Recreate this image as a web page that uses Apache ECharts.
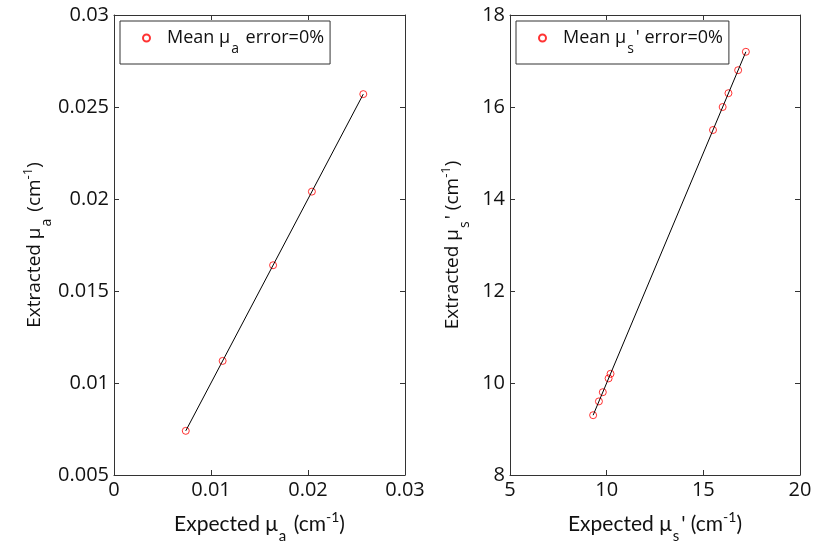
<!DOCTYPE html>
<html>
<head>
<meta charset="utf-8">
<script src="https://cdn.jsdelivr.net/npm/echarts@6/dist/echarts.min.js"></script>
<style>
  html, body { margin: 0; padding: 0; background: #fff; }
  #chart { width: 816px; height: 543px; }
</style>
</head>
<body>
<div id="chart"></div>
<script>
// Absorption coefficient μa (cm^-1): expected vs extracted
const muaExpected  = [0.0074, 0.0112, 0.0164, 0.0204, 0.0257];
const muaExtracted = [0.0074, 0.0112, 0.0164, 0.0204, 0.0257];
const muaFitX = [0.0074, 0.0257];
const muaFitY = [0.0074, 0.0257];

// Reduced scattering coefficient μs' (cm^-1): expected vs extracted
const muspExpected  = [9.3, 9.6, 9.8, 10.1, 10.2, 15.5, 16.0, 16.3, 16.8, 17.2];
const muspExtracted = [9.3, 9.6, 9.8, 10.1, 10.2, 15.5, 16.0, 16.3, 16.8, 17.2];
const muspFitX = [9.3, 17.2];
const muspFitY = [9.3, 17.2];

const legendLabels = {
  mua:  '{first|Mean μ}{sub|a}{t| error=0%}',
  musp: "{first|Mean μ}{sub|s}{t|' error=0%}"
};
const xNames = {
  mua:  '{t|Expected μ}{sub|a}{t| (cm}{sup|-1}{t|)}',
  musp: "{t|Expected μ}{sub|s}{t|' (cm}{sup|-1}{t|)}"
};
const yNames = {
  mua:  '{t|Extracted μ}{sub|a}{t| (cm}{sup|-1}{t|)}',
  musp: "{t|Extracted μ}{sub|s}{t|' (cm}{sup|-1}{t|)}"
};

const pairs = (xs, ys) => xs.map((x, i) => [x, ys[i]]);

const AXIS_COLOR = '#333';
const TEXT_COLOR = '#111';
const tickFont = { fontFamily: 'Open Sans', fontSize: 20, color: TEXT_COLOR };

function richSet(family, size, subSize, subDrop, supRise) {
  return {
    t:   { fontFamily: family, fontSize: size, color: TEXT_COLOR },
    first: { fontFamily: family, fontSize: size, color: TEXT_COLOR, padding: [0, 0, 0, 12] },
    sub: { fontFamily: family, fontSize: subSize, color: TEXT_COLOR, padding: [subDrop, 2, 0, 1] },
    sup: { fontFamily: family, fontSize: subSize - 1, color: TEXT_COLOR, padding: [0, 0, supRise, 0] }
  };
}
const xNameRich = richSet('Lato', 21, 15, 24, 14);
const yNameRich = richSet('Open Sans', 19, 14, 24, 14);
const legendRich = richSet('Open Sans', 18, 14, 22, 12);

function valueAxis(gridIndex, pos, min, max, interval, showLabel, name, nameGap, rich) {
  return {
    type: 'value', gridIndex, position: pos, min, max, interval,
    axisLine: { show: true, onZero: false, lineStyle: { color: AXIS_COLOR, width: 1 } },
    axisTick: { show: true, inside: true, length: 5, lineStyle: { color: AXIS_COLOR } },
    axisLabel: Object.assign({ show: showLabel, margin: 5 }, tickFont),
    splitLine: { show: false },
    name: name || '',
    nameLocation: 'middle',
    nameGap: nameGap || 0,
    nameTextStyle: { rich: rich || {} }
  };
}

function legendFor(name, left) {
  return {
    data: [name],
    left, top: 21,
    orient: 'horizontal',
    padding: [8, 6, 8, 22],
    itemWidth: 7, itemHeight: 7, itemGap: 0,
    borderColor: AXIS_COLOR, borderWidth: 1, borderRadius: 0,
    backgroundColor: '#fff',
    formatter: n => legendLabels[n],
    textStyle: { rich: legendRich }
  };
}

const scatterStyle = {
  symbol: 'circle', symbolSize: 7,
  itemStyle: { color: 'rgba(255,255,255,0)', borderColor: '#ff0000', borderWidth: 1 }
};
const fitStyle = {
  type: 'line', symbol: 'none', silent: true,
  lineStyle: { color: '#000', width: 1 }, z: 3
};

const option = {
  animation: false,
  backgroundColor: '#fff',
  grid: [
    { left: 114, top: 15, width: 291, height: 460, outerBoundsMode: 'none' },
    { left: 510, top: 15, width: 290, height: 460, outerBoundsMode: 'none' }
  ],
  xAxis: [
    valueAxis(0, 'bottom', 0, 0.03, 0.01, true, xNames.mua, 30, xNameRich),
    valueAxis(0, 'top', 0, 0.03, 0.01, false),
    valueAxis(1, 'bottom', 5, 20, 5, true, xNames.musp, 30, xNameRich),
    valueAxis(1, 'top', 5, 20, 5, false)
  ],
  yAxis: [
    valueAxis(0, 'left', 0.005, 0.03, 0.005, true, yNames.mua, 60, yNameRich),
    valueAxis(0, 'right', 0.005, 0.03, 0.005, false),
    valueAxis(1, 'left', 8, 18, 2, true, yNames.musp, 38, yNameRich),
    valueAxis(1, 'right', 8, 18, 2, false)
  ],
  legend: [legendFor('mua', 120), legendFor('musp', 516)],
  series: [
    Object.assign({ type: 'scatter', name: 'mua', xAxisIndex: 0, yAxisIndex: 0,
      data: pairs(muaExpected, muaExtracted) }, scatterStyle),
    Object.assign({ name: 'muaFit', xAxisIndex: 0, yAxisIndex: 0,
      data: pairs(muaFitX, muaFitY) }, fitStyle),
    Object.assign({ type: 'scatter', name: 'musp', xAxisIndex: 2, yAxisIndex: 2,
      data: pairs(muspExpected, muspExtracted) }, scatterStyle),
    Object.assign({ name: 'muspFit', xAxisIndex: 2, yAxisIndex: 2,
      data: pairs(muspFitX, muspFitY) }, fitStyle)
  ]
};

const chart = echarts.init(document.getElementById('chart'), null, { renderer: 'canvas' });
chart.setOption(option);
</script>
</body>
</html>
